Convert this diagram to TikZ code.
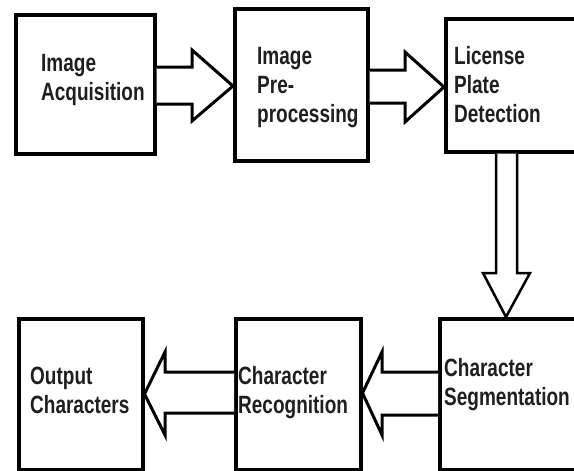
\documentclass[tikz,border=0pt]{standalone}
\usepackage{fontspec}
\setmainfont{Liberation Sans}[FakeStretch=0.76,BoldFont={Liberation Sans Bold}]
\begin{document}
\begin{tikzpicture}[x=1pt,y=-1pt,
  box/.style={draw=black,line width=3.5pt,fill=white,inner sep=0pt,
    anchor=north west},
  blockarrow/.style={draw=black,line width=3pt,fill=white,line join=miter},
  vblockarrow/.style={draw=black,line width=2.5pt,fill=white,line join=miter},
  lbl/.style={font=\fontsize{25}{29}\selectfont\bfseries,align=left,inner sep=0pt,
    anchor=base west,text=black!88}]
\useasboundingbox (0,0) rectangle (574,471);
\clip (0,0) rectangle (574,471);
\fill[white] (0,0) rectangle (574,471);

% process boxes
\node[box,minimum width=139pt,minimum height=139pt] (b1) at (14,13) {};
\node[box,minimum width=133pt,minimum height=152pt] (b2) at (233,7) {};
\node[box,minimum width=156pt,minimum height=133pt] (b3) at (444,17) {};
\node[box,minimum width=162pt,minimum height=151pt] (b4) at (438,317) {};
\node[box,minimum width=125pt,minimum height=151pt] (b5) at (234,317) {};
\node[box,minimum width=124pt,minimum height=151pt] (b6) at (17,317) {};

% block arrows between the stages
\draw[blockarrow] (b1.east |- 0,67) -- (192,67) -- (192,50)
  -- (b2.west |- 0,86) -- (192,121) -- (192,104) -- (b1.east |- 0,104);
\draw[blockarrow] (b2.east |- 0,70) -- (405,70) -- (405,52)
  -- (b3.west |- 0,87) -- (405,122) -- (405,103) -- (b2.east |- 0,103);
\draw[vblockarrow] (b3.south -| 496,0) -- (496,273) -- (483,273)
  -- (b4.north -| 506,0) -- (530,273) -- (517,273) -- (b3.south -| 517,0);
\draw[blockarrow] (b4.west |- 0,372) -- (382,372) -- (382,352)
  -- (b5.east |- 0,393) -- (382,435) -- (382,415) -- (b4.west |- 0,415);
\draw[blockarrow] (b5.west |- 0,372) -- (165,372) -- (165,352)
  -- (b6.east |- 0,394) -- (165,435) -- (165,413) -- (b5.west |- 0,413);

% stage labels (anchored at the baseline of their last line)
\node[lbl] (t1) at (41,100) {Image\\Acquisition};
\node[lbl] (t2) at (257,122) {Image\\Pre-\\processing};
\node[lbl] (t3) at (454,122) {License\\Plate\\Detection};
\node[lbl] (t4) at (444,405) {Character\\Segmentation};
\node[lbl] (t5) at (238,413) {Character\\Recognition};
\node[lbl] (t6) at (30,413) {Output\\Characters};
\end{tikzpicture}
\end{document}
